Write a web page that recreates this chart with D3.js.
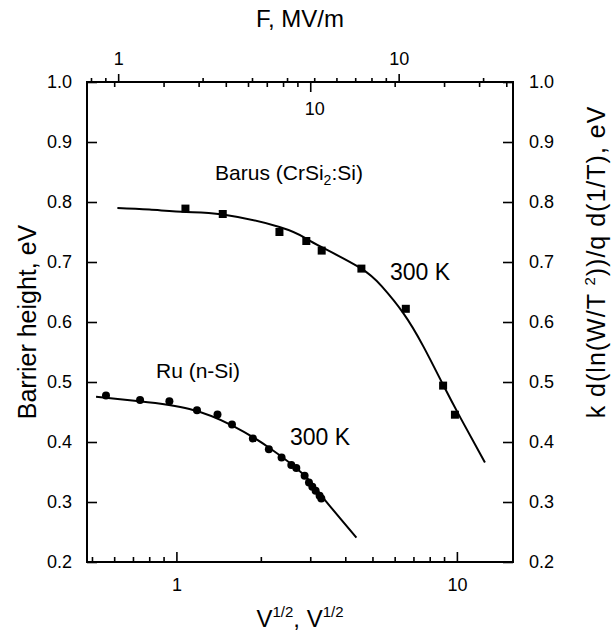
<!DOCTYPE html>
<html>
<head>
<meta charset="utf-8">
<script src="https://cdn.jsdelivr.net/npm/d3@7"></script>
<style>
  html, body { margin: 0; padding: 0; background: #fff; }
  svg { display: block; }
  text { font-family: "Liberation Sans", Arial, Helvetica, sans-serif; fill: #000; }
</style>
</head>
<body>
<svg id="chart" width="616" height="634"></svg>
<script>
// ---------- data ----------
const barusX = [1.077, 1.463, 2.33, 2.905, 3.296, 4.566, 6.575, 8.93, 9.84];
const barusY = [0.789, 0.780, 0.750, 0.735, 0.719, 0.689, 0.622, 0.494, 0.4455];

const barusFitX = [0.616, 0.801, 1.083, 1.463, 2.33, 2.905, 3.285, 4.507, 5.4, 6.43, 7.6, 8.93, 10.3, 12.59];
const barusFitY = [0.790, 0.7874, 0.7834, 0.779, 0.7584, 0.739, 0.725, 0.6905, 0.6593, 0.6152, 0.559, 0.4953, 0.4402, 0.3658];

const ruX = [0.561, 0.742, 0.944, 1.184, 1.401, 1.578, 1.873, 2.136, 2.371, 2.568, 2.676, 2.865, 2.969, 3.052, 3.136, 3.24, 3.286];
const ruY = [0.4773, 0.470, 0.468, 0.453, 0.446, 0.429, 0.406, 0.388, 0.374, 0.3616, 0.3566, 0.3437, 0.3325, 0.3253, 0.3186, 0.3103, 0.3058];

const ruFitX = [0.517, 0.738, 1.113, 1.589, 2.148, 2.826, 3.331, 4.383];
const ruFitY = [0.4756, 0.4678, 0.455, 0.427, 0.390, 0.3465, 0.3074, 0.2407];

// axis tick values
const xMajor = [1, 10];
const xMinor = [0.5, 0.6, 0.7, 0.8, 0.9, 2, 3, 4, 5, 6, 7, 8, 9];
const fMajor = [1, 10];
const fMinor = [0.8, 0.9, 2, 3, 4, 5, 6, 7, 8, 9, 20];
const innerMajor = [10];
const innerMinor = [2, 3, 4, 5, 6, 7, 8, 9, 20, 30, 40, 50];
const yTicks = [0.2, 0.3, 0.4, 0.5, 0.6, 0.7, 0.8, 0.9, 1.0];

const xDomain = [0.48, 15.85];
const fPerSqrtV = 1.613;      // F (MV/m) per V^1/2
const innerPerSqrtV = 1 / 0.3; // inner top scale per V^1/2

// ---------- layout ----------
const L = 87, R = 513, T = 82, B = 562;
const svg = d3.select("#chart");

const x = d3.scaleLog().domain(xDomain).range([L, R]);
const xF = d3.scaleLog().domain(xDomain.map(d => d * fPerSqrtV)).range([L, R]);
const xI = d3.scaleLog().domain(xDomain.map(d => d * innerPerSqrtV)).range([L, R]);
const y = d3.scaleLinear().domain([0.2, 1.0]).range([B, T]);

const fmt1 = d3.format(".1f");

function styleAxis(g) {
  g.select(".domain").remove();
  g.selectAll("line").attr("stroke", "#000").attr("stroke-width", 1.6);
}
function styleText(g) {
  g.select(".domain").remove();
  g.selectAll("text").attr("font-size", 18).attr("font-family", "Liberation Sans, Arial, sans-serif");
}

// bottom axis (ticks inward)
svg.append("g").attr("transform", `translate(0,${B})`)
  .call(d3.axisTop(x).tickValues(xMinor).tickSize(5).tickFormat(""))
  .call(styleAxis);
svg.append("g").attr("transform", `translate(0,${B})`)
  .call(d3.axisTop(x).tickValues(xMajor).tickSize(10).tickFormat(""))
  .call(styleAxis);
svg.append("g").attr("transform", `translate(0,${B})`)
  .call(d3.axisBottom(x).tickValues(xMajor).tickSize(0).tickPadding(16).tickFormat(d3.format("d")))
  .call(styleText);

// top F axis (ticks outward)
svg.append("g").attr("transform", `translate(0,${T})`)
  .call(d3.axisTop(xF).tickValues(fMinor).tickSize(4).tickFormat(""))
  .call(styleAxis);
svg.append("g").attr("transform", `translate(0,${T})`)
  .call(d3.axisTop(xF).tickValues(fMajor).tickSize(8).tickPadding(9).tickFormat(d3.format("d")))
  .call(styleAxis).call(styleText);

// top inner axis (ticks inward)
svg.append("g").attr("transform", `translate(0,${T})`)
  .call(d3.axisBottom(xI).tickValues(innerMinor).tickSize(5).tickFormat(""))
  .call(styleAxis);
svg.append("g").attr("transform", `translate(0,${T})`)
  .call(d3.axisBottom(xI).tickValues(innerMajor).tickSize(10).tickPadding(10).tickFormat(d3.format("d")))
  .call(styleAxis).call(styleText)
  .call(g => g.selectAll("text").attr("dx", 4));

// left axis (ticks inward)
svg.append("g").attr("transform", `translate(${L},0)`)
  .call(d3.axisRight(y).tickValues(yTicks).tickSize(10).tickFormat(""))
  .call(styleAxis);
svg.append("g").attr("transform", `translate(${L},0)`)
  .call(d3.axisLeft(y).tickValues(yTicks).tickSize(0).tickPadding(15).tickFormat(fmt1))
  .call(styleText);

// right axis (ticks inward)
svg.append("g").attr("transform", `translate(${R},0)`)
  .call(d3.axisLeft(y).tickValues(yTicks).tickSize(10).tickFormat(""))
  .call(styleAxis);
svg.append("g").attr("transform", `translate(${R},0)`)
  .call(d3.axisRight(y).tickValues(yTicks).tickSize(0).tickPadding(16).tickFormat(fmt1))
  .call(styleText);

// frame
svg.append("rect").attr("x", L).attr("y", T).attr("width", R - L).attr("height", B - T)
  .attr("fill", "none").attr("stroke", "#000").attr("stroke-width", 2);

// fit curves
const line = d3.line().x(d => x(d[0])).y(d => y(d[1])).curve(d3.curveNatural);
svg.append("path").datum(d3.zip(barusFitX, barusFitY)).attr("d", line)
  .attr("fill", "none").attr("stroke", "#000").attr("stroke-width", 2);
svg.append("path").datum(d3.zip(ruFitX, ruFitY)).attr("d", line)
  .attr("fill", "none").attr("stroke", "#000").attr("stroke-width", 2);

// markers
const sq = 8;
svg.append("g").selectAll("rect").data(d3.zip(barusX, barusY)).join("rect")
  .attr("x", d => x(d[0]) - sq / 2).attr("y", d => y(d[1]) - sq / 2)
  .attr("width", sq).attr("height", sq).attr("fill", "#000");
svg.append("g").selectAll("circle").data(d3.zip(ruX, ruY)).join("circle")
  .attr("cx", d => x(d[0])).attr("cy", d => y(d[1])).attr("r", 4).attr("fill", "#000");

// annotations
const ann = svg.append("g").attr("font-size", 21);
const barus = ann.append("text").attr("x", 289).attr("y", 180).attr("text-anchor", "middle");
barus.append("tspan").text("Barus (CrSi");
barus.append("tspan").attr("font-size", 14).attr("dy", 5).text("2");
barus.append("tspan").attr("dy", -5).text(":Si)");
ann.append("text").attr("x", 420).attr("y", 280).attr("text-anchor", "middle").attr("font-size", 23).text("300 K");
ann.append("text").attr("x", 198).attr("y", 378).attr("text-anchor", "middle").text("Ru (n-Si)");
ann.append("text").attr("x", 320).attr("y", 445).attr("text-anchor", "middle").attr("font-size", 23).text("300 K");

// axis titles
svg.append("text").attr("x", 300).attr("y", 27).attr("text-anchor", "middle")
  .attr("font-size", 24).text("F, MV/m");

const xt = svg.append("text").attr("x", 300).attr("y", 627).attr("text-anchor", "middle").attr("font-size", 24);
xt.append("tspan").text("V");
xt.append("tspan").attr("font-size", 15).attr("dy", -10).text("1/2");
xt.append("tspan").attr("dy", 10).text(", V");
xt.append("tspan").attr("font-size", 15).attr("dy", -10).text("1/2");

svg.append("text").attr("transform", "translate(36,322) rotate(-90)")
  .attr("text-anchor", "middle").attr("font-size", 25).text("Barrier height, eV");

const rt = svg.append("text").attr("transform", "translate(605,262) rotate(-90)")
  .attr("text-anchor", "middle").attr("font-size", 25).attr("letter-spacing", 1);
rt.append("tspan").text("k d(ln(W/T ");
rt.append("tspan").attr("font-size", 15).attr("dy", -10).text("2");
rt.append("tspan").attr("dy", 10).text("))/q d(1/T), eV");
</script>
</body>
</html>
